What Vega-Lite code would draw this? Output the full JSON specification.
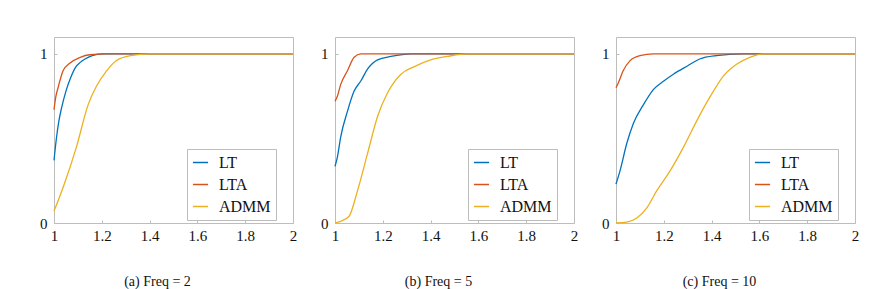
{
  "$schema": "https://vega.github.io/schema/vega-lite/v6.json",
  "padding": {"left": 39, "top": 36, "right": 5, "bottom": 2},
  "background": "white",
  "config": {
    "font": "Liberation Serif",
    "view": {"stroke": "#bdbdbd", "strokeWidth": 1},
    "axis": {
      "grid": false, "domain": false, "ticks": true, "tickSize": -3, "tickColor": "#bdbdbd",
      "labelFont": "Liberation Serif", "labelFontSize": 15, "labelColor": "#111", "title": null, "format": "~g"
    },
    "legend": {
      "orient": "none", "legendX": 133, "legendY": 112, "fillColor": "white", "strokeColor": "#bdbdbd",
      "padding": 5, "labelFont": "Liberation Serif", "labelFontSize": 16, "labelColor": "#111", "labelOffset": 10,
      "symbolType": "stroke", "symbolSize": 230, "symbolStrokeWidth": 1.5, "rowPadding": 5, "title": null
    },
    "title": {"font": "Liberation Serif", "fontSize": 14, "fontWeight": "normal", "color": "#111", "orient": "bottom", "offset": 32, "dx": -16}
  },
  "datasets": {
    "cdf": [
      {"p": "a", "m": "LT", "x": 1.0, "y": 0.37}, {"p": "a", "m": "LT", "x": 1.01, "y": 0.5}, {"p": "a", "m": "LT", "x": 1.02, "y": 0.6},
      {"p": "a", "m": "LT", "x": 1.03, "y": 0.67}, {"p": "a", "m": "LT", "x": 1.05, "y": 0.78}, {"p": "a", "m": "LT", "x": 1.07, "y": 0.86},
      {"p": "a", "m": "LT", "x": 1.09, "y": 0.92}, {"p": "a", "m": "LT", "x": 1.11, "y": 0.95}, {"p": "a", "m": "LT", "x": 1.13, "y": 0.97},
      {"p": "a", "m": "LT", "x": 1.16, "y": 0.99}, {"p": "a", "m": "LT", "x": 1.2, "y": 1.0}, {"p": "a", "m": "LT", "x": 2.0, "y": 1.0},
      {"p": "a", "m": "LTA", "x": 1.0, "y": 0.67}, {"p": "a", "m": "LTA", "x": 1.008, "y": 0.75}, {"p": "a", "m": "LTA", "x": 1.017, "y": 0.8},
      {"p": "a", "m": "LTA", "x": 1.038, "y": 0.9}, {"p": "a", "m": "LTA", "x": 1.066, "y": 0.945}, {"p": "a", "m": "LTA", "x": 1.11, "y": 0.98},
      {"p": "a", "m": "LTA", "x": 1.15, "y": 0.995}, {"p": "a", "m": "LTA", "x": 1.22, "y": 1.0}, {"p": "a", "m": "LTA", "x": 2.0, "y": 1.0},
      {"p": "a", "m": "ADMM", "x": 1.0, "y": 0.07}, {"p": "a", "m": "ADMM", "x": 1.038, "y": 0.21}, {"p": "a", "m": "ADMM", "x": 1.094, "y": 0.45},
      {"p": "a", "m": "ADMM", "x": 1.143, "y": 0.7}, {"p": "a", "m": "ADMM", "x": 1.178, "y": 0.81}, {"p": "a", "m": "ADMM", "x": 1.22, "y": 0.9},
      {"p": "a", "m": "ADMM", "x": 1.26, "y": 0.96}, {"p": "a", "m": "ADMM", "x": 1.32, "y": 0.99}, {"p": "a", "m": "ADMM", "x": 1.4, "y": 1.0},
      {"p": "a", "m": "ADMM", "x": 2.0, "y": 1.0},

      {"p": "b", "m": "LT", "x": 1.0, "y": 0.335}, {"p": "b", "m": "LT", "x": 1.01, "y": 0.39}, {"p": "b", "m": "LT", "x": 1.024, "y": 0.51},
      {"p": "b", "m": "LT", "x": 1.052, "y": 0.66}, {"p": "b", "m": "LT", "x": 1.08, "y": 0.78}, {"p": "b", "m": "LT", "x": 1.108, "y": 0.84},
      {"p": "b", "m": "LT", "x": 1.136, "y": 0.91}, {"p": "b", "m": "LT", "x": 1.178, "y": 0.965}, {"p": "b", "m": "LT", "x": 1.234, "y": 0.985},
      {"p": "b", "m": "LT", "x": 1.32, "y": 1.0}, {"p": "b", "m": "LT", "x": 2.0, "y": 1.0},
      {"p": "b", "m": "LTA", "x": 1.0, "y": 0.72}, {"p": "b", "m": "LTA", "x": 1.01, "y": 0.75}, {"p": "b", "m": "LTA", "x": 1.024, "y": 0.82},
      {"p": "b", "m": "LTA", "x": 1.052, "y": 0.9}, {"p": "b", "m": "LTA", "x": 1.08, "y": 0.98}, {"p": "b", "m": "LTA", "x": 1.108, "y": 1.0},
      {"p": "b", "m": "LTA", "x": 2.0, "y": 1.0},
      {"p": "b", "m": "ADMM", "x": 1.0, "y": 0.0}, {"p": "b", "m": "ADMM", "x": 1.024, "y": 0.01}, {"p": "b", "m": "ADMM", "x": 1.059, "y": 0.04},
      {"p": "b", "m": "ADMM", "x": 1.094, "y": 0.19}, {"p": "b", "m": "ADMM", "x": 1.136, "y": 0.41}, {"p": "b", "m": "ADMM", "x": 1.178, "y": 0.63},
      {"p": "b", "m": "ADMM", "x": 1.22, "y": 0.77}, {"p": "b", "m": "ADMM", "x": 1.276, "y": 0.88}, {"p": "b", "m": "ADMM", "x": 1.332, "y": 0.925},
      {"p": "b", "m": "ADMM", "x": 1.4, "y": 0.965}, {"p": "b", "m": "ADMM", "x": 1.47, "y": 0.985}, {"p": "b", "m": "ADMM", "x": 1.55, "y": 1.0},
      {"p": "b", "m": "ADMM", "x": 2.0, "y": 1.0},

      {"p": "c", "m": "LT", "x": 1.0, "y": 0.23}, {"p": "c", "m": "LT", "x": 1.017, "y": 0.31}, {"p": "c", "m": "LT", "x": 1.045, "y": 0.47},
      {"p": "c", "m": "LT", "x": 1.073, "y": 0.59}, {"p": "c", "m": "LT", "x": 1.115, "y": 0.7}, {"p": "c", "m": "LT", "x": 1.157, "y": 0.79},
      {"p": "c", "m": "LT", "x": 1.2, "y": 0.84}, {"p": "c", "m": "LT", "x": 1.24, "y": 0.88}, {"p": "c", "m": "LT", "x": 1.3, "y": 0.93},
      {"p": "c", "m": "LT", "x": 1.35, "y": 0.97}, {"p": "c", "m": "LT", "x": 1.42, "y": 0.99}, {"p": "c", "m": "LT", "x": 1.53, "y": 1.0},
      {"p": "c", "m": "LT", "x": 2.0, "y": 1.0},
      {"p": "c", "m": "LTA", "x": 1.0, "y": 0.8}, {"p": "c", "m": "LTA", "x": 1.01, "y": 0.83}, {"p": "c", "m": "LTA", "x": 1.03, "y": 0.9},
      {"p": "c", "m": "LTA", "x": 1.059, "y": 0.96}, {"p": "c", "m": "LTA", "x": 1.1, "y": 0.99}, {"p": "c", "m": "LTA", "x": 1.157, "y": 1.0},
      {"p": "c", "m": "LTA", "x": 2.0, "y": 1.0},
      {"p": "c", "m": "ADMM", "x": 1.0, "y": 0.0}, {"p": "c", "m": "ADMM", "x": 1.045, "y": 0.005}, {"p": "c", "m": "ADMM", "x": 1.087, "y": 0.03},
      {"p": "c", "m": "ADMM", "x": 1.129, "y": 0.09}, {"p": "c", "m": "ADMM", "x": 1.17, "y": 0.19}, {"p": "c", "m": "ADMM", "x": 1.227, "y": 0.31},
      {"p": "c", "m": "ADMM", "x": 1.283, "y": 0.45}, {"p": "c", "m": "ADMM", "x": 1.34, "y": 0.61}, {"p": "c", "m": "ADMM", "x": 1.395, "y": 0.75},
      {"p": "c", "m": "ADMM", "x": 1.45, "y": 0.87}, {"p": "c", "m": "ADMM", "x": 1.506, "y": 0.94}, {"p": "c", "m": "ADMM", "x": 1.56, "y": 0.98},
      {"p": "c", "m": "ADMM", "x": 1.62, "y": 1.0}, {"p": "c", "m": "ADMM", "x": 2.0, "y": 1.0}
    ]
  },
  "hconcat": [
    {
      "width": 239, "height": 186,
      "title": {"text": "(a) Freq = 2"},
      "data": {"name": "cdf"},
      "transform": [{"filter": "datum.p === 'a'"}],
      "mark": {"type": "line", "strokeWidth": 1.3, "interpolate": "monotone"},
      "encoding": {
        "x": {"field": "x", "type": "quantitative", "scale": {"domain": [1, 2], "nice": false}, "axis": {"values": [1, 1.2, 1.4, 1.6, 1.8, 2], "labelPadding": 8, "labelFlush": false}},
        "y": {"field": "y", "type": "quantitative", "scale": {"domain": [0, 1.1], "nice": false}, "axis": {"values": [0, 1], "labelPadding": 10}},
        "color": {"field": "m", "type": "nominal", "scale": {"domain": ["LT", "LTA", "ADMM"], "range": ["#0072BD", "#D95319", "#EDB120"]}, "legend": {"orient": "none", "legendX": 133, "legendY": 112}},
        "order": {"field": "x", "type": "quantitative"}
      }
    },
    {
      "width": 239, "height": 186,
      "title": {"text": "(b) Freq = 5"},
      "data": {"name": "cdf"},
      "transform": [{"filter": "datum.p === 'b'"}],
      "mark": {"type": "line", "strokeWidth": 1.3, "interpolate": "monotone"},
      "encoding": {
        "x": {"field": "x", "type": "quantitative", "scale": {"domain": [1, 2], "nice": false}, "axis": {"values": [1, 1.2, 1.4, 1.6, 1.8, 2], "labelPadding": 8, "labelFlush": false}},
        "y": {"field": "y", "type": "quantitative", "scale": {"domain": [0, 1.1], "nice": false}, "axis": {"values": [0, 1], "labelPadding": 10}},
        "color": {"field": "m", "type": "nominal", "scale": {"domain": ["LT", "LTA", "ADMM"], "range": ["#0072BD", "#D95319", "#EDB120"]}, "legend": {"orient": "none", "legendX": 133, "legendY": 112}},
        "order": {"field": "x", "type": "quantitative"}
      }
    },
    {
      "width": 239, "height": 186,
      "title": {"text": "(c) Freq = 10"},
      "data": {"name": "cdf"},
      "transform": [{"filter": "datum.p === 'c'"}],
      "mark": {"type": "line", "strokeWidth": 1.3, "interpolate": "monotone"},
      "encoding": {
        "x": {"field": "x", "type": "quantitative", "scale": {"domain": [1, 2], "nice": false}, "axis": {"values": [1, 1.2, 1.4, 1.6, 1.8, 2], "labelPadding": 8, "labelFlush": false}},
        "y": {"field": "y", "type": "quantitative", "scale": {"domain": [0, 1.1], "nice": false}, "axis": {"values": [0, 1], "labelPadding": 10}},
        "color": {"field": "m", "type": "nominal", "scale": {"domain": ["LT", "LTA", "ADMM"], "range": ["#0072BD", "#D95319", "#EDB120"]}, "legend": {"orient": "none", "legendX": 133, "legendY": 112}},
        "order": {"field": "x", "type": "quantitative"}
      }
    }
  ],
  "spacing": 22,
  "resolve": {"legend": {"color": "independent"}, "scale": {"x": "independent", "y": "independent"}}
}
